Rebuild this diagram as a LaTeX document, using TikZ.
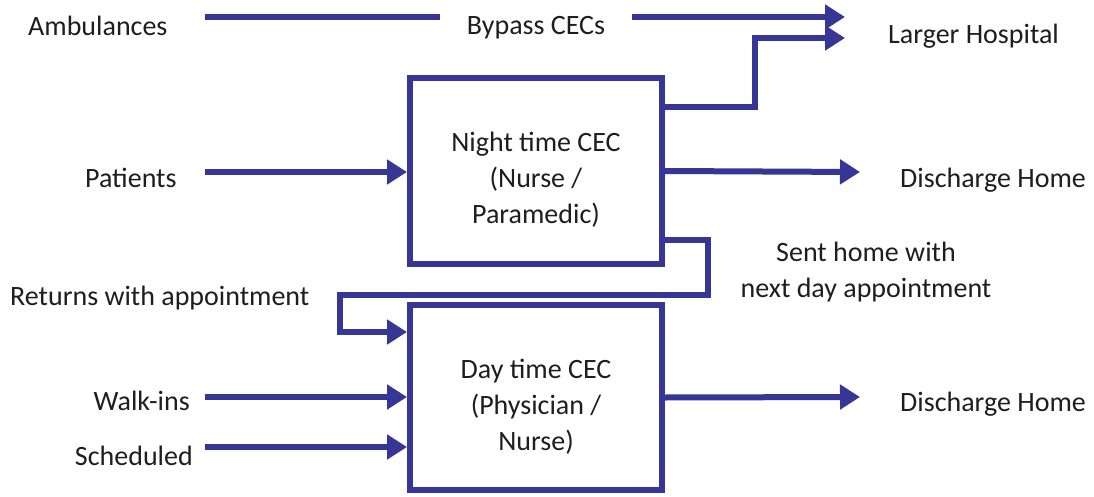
\documentclass[tikz,border=0pt]{standalone}
\usepackage{fontspec}
\setmainfont{Carlito}
\usetikzlibrary{arrows.meta,shadows}
\definecolor{flow}{RGB}{54,54,150}
\definecolor{ink}{RGB}{30,30,30}
\begin{document}
\begin{tikzpicture}[x=1pt,y=-1pt,
  lbl/.style={inner sep=0pt, text=ink, font=\fontsize{28}{36}\selectfont},
  cec/.style={draw=flow, line width=6pt, fill=white, align=center, text=ink,
    font=\fontsize{28}{36}\selectfont, minimum width=252pt,
    drop shadow={shadow xshift=3pt, shadow yshift=-3pt, opacity=0.35, fill=black!60}},
  flowline/.style={draw=flow, line width=6pt},
  arr/.style={flowline, -{Triangle[length=20pt,width=24pt]}}]
\path[use as bounding box, fill=white] (0,0) rectangle (1094,497);

% boxes
\node[cec, minimum height=186pt] (night) at (536,171) {\rule{0pt}{37pt}Night time CEC\\(Nurse /\\Paramedic)};
\node[cec, minimum height=185pt] (day) at (536,397.5) {\rule{0pt}{38pt}Day time CEC\\(Physician /\\Nurse)};

% labels
\node[lbl, anchor=base west] (amb) at (28,36) {Ambulances};
\node[lbl, anchor=base, inner xsep=27pt] (bypass) at (536,35) {Bypass CECs};
\node[lbl, anchor=base west] (larger) at (888,44) {Larger Hospital};
\node[lbl, anchor=base west] (pat) at (85,187) {Patients};
\node[lbl, anchor=base west] (dis1) at (900,187) {Discharge Home};
\node[lbl, anchor=base, align=center] (sent) at (866,297) {Sent home with\\next day appointment};
\node[lbl, anchor=base west] (ret) at (10,305) {Returns with appointment};
\node[lbl, anchor=base east] (walk) at (190,410) {Walk-ins};
\node[lbl, anchor=base east] (sched) at (193,465) {Scheduled};
\node[lbl, anchor=base west] (dis2) at (900,411) {Discharge Home};

% connector end points
\coordinate (ambS) at (205,17);
\coordinate (ambE) at (845,17);
\coordinate (lhE) at (845,38);
\coordinate (lhB) at (755,38);
\coordinate (lhA) at (755,107);
\coordinate (patS) at (205,172);
\coordinate (dis1E) at (860,172);
\coordinate (loopA) at (708,240);
\coordinate (loopB) at (708,295);
\coordinate (loopC) at (340,295);
\coordinate (loopD) at (340,332);
\coordinate (walkS) at (205,397);
\coordinate (schedS) at (205,447);
\coordinate (dis2E) at (860,397);

% connectors
\draw[flowline] (ambS) -- (ambS -| bypass.west);
\draw[arr] (ambE -| bypass.east) -- (ambE);
\draw[arr] (lhA -| night.east) -- (lhA) -- (lhB) -- (lhE);
\draw[arr] (patS) -- (patS -| night.west);
\draw[arr] (night.east) -- (dis1E);
\draw[arr] (loopA -| night.east) -- (loopA) -- (loopB) -- (loopC) -- (loopD) -- (loopD -| day.west);
\draw[arr] (walkS) -- (walkS -| day.west);
\draw[arr] (schedS) -- (schedS -| day.west);
\draw[arr] (day.east) -- (dis2E);
\end{tikzpicture}
\end{document}
